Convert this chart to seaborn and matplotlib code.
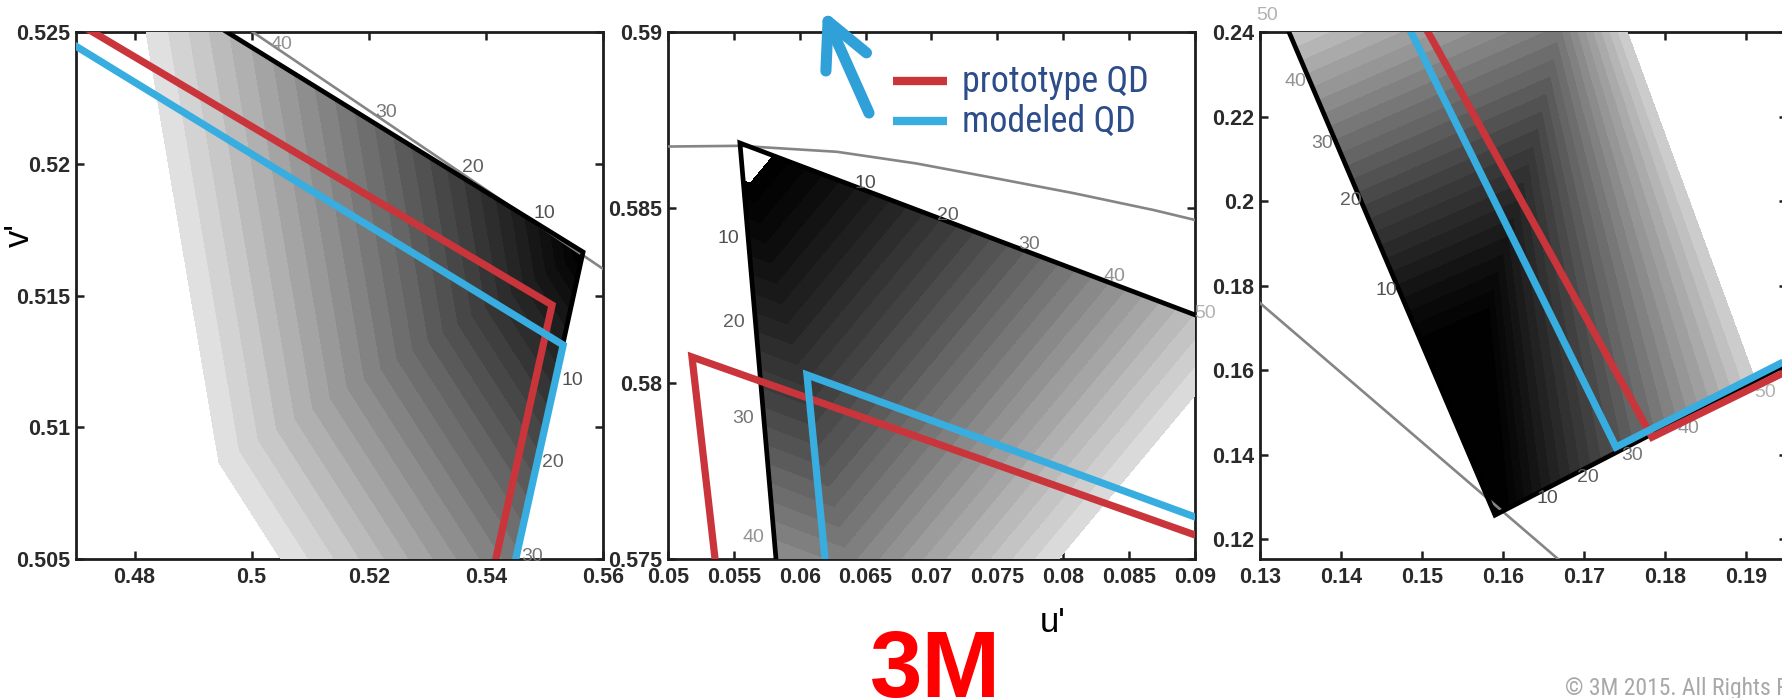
import numpy as np
import matplotlib
matplotlib.use("Agg")
import matplotlib.pyplot as plt
import seaborn as sns
from matplotlib import font_manager
from matplotlib.font_manager import FontProperties
from matplotlib.patches import Polygon, FancyArrowPatch, ArrowStyle
from matplotlib.lines import Line2D
from matplotlib.colors import ListedColormap

sns.set_theme(style="ticks")
plt.rcParams["font.family"] = ["Liberation Sans", "DejaVu Sans"]


def narrow_font():
    # look for an installed condensed / narrow sans face
    prefs = ["Liberation", "Arial", "Roboto", "Noto Sans", "Open Sans", "DejaVu Sans", "Lato", "Inter"]
    found = []
    for f in font_manager.fontManager.ttflist:
        nm = f.name
        st = str(f.stretch).lower()
        narrow = ("narrow" in nm.lower() or "condensed" in nm.lower()
                  or st in ("condensed", "semi-condensed"))
        if "extra" in nm.lower() or "extra" in st or "ultra" in st:
            continue
        if not narrow or f.style != "normal" or str(f.weight) not in ("400", "normal", "regular", "book"):
            continue
        if "mono" in nm.lower() or "serif" in nm.lower() and "sans" not in nm.lower():
            continue
        rank = next((i for i, p in enumerate(prefs) if nm.startswith(p)), len(prefs))
        semi = 1 if "semi" in st or "semi" in nm.lower() else 0
        found.append((rank, semi, f.fname))
    if found:
        found.sort()
        return found[0][2]
    return None


NARROW_FILE = narrow_font()


def nfont(size):
    if NARROW_FILE:
        return FontProperties(fname=NARROW_FILE, size=size)
    return FontProperties(family="Liberation Sans", size=size * 0.86)


RED = "#c9353b"
BLUE = "#38ade0"
LOCUS = "#858585"
g = np.linspace(0, 1, 256) ** 1.35
GRAYS = ListedColormap(np.column_stack([g, g, g]))

# ---------------- panel 1 : red primary ----------------
p1_xlim = (0.47, 0.56)
p1_ylim = (0.505, 0.525)
p1_xticks = [0.48, 0.50, 0.52, 0.54, 0.56]
p1_xticklabels = ["0.48", "0.5", "0.52", "0.54", "0.56"]
p1_yticks = [0.505, 0.51, 0.515, 0.52, 0.525]
p1_yticklabels = ["0.505", "0.51", "0.515", "0.52", "0.525"]
p1_wedge_u = [0.4836, 0.5566, 0.5428]
p1_wedge_v = [0.52667, 0.51665, 0.50267]
p1_locus_u = [0.490, 0.565]
p1_locus_v = [0.52653, 0.51526]
p1_proto_u = [0.465, 0.5513, 0.5397]
p1_proto_v = [0.52604, 0.51464, 0.503]
p1_model_u = [0.465, 0.5532, 0.5431]
p1_model_v = [0.52514, 0.51312, 0.503]
p1_lab_val = [40, 30, 20, 10, 10, 20, 30]
p1_lab_u = [0.5050, 0.52295, 0.53781, 0.54993, 0.55471, 0.55147, 0.54788]
p1_lab_v = [0.52451, 0.52193, 0.51984, 0.51813, 0.51179, 0.50868, 0.50511]
# chevron contour field: apex, two families of contour directions and a point on the outer contour
p1_apex = (0.5566, 0.51665)
p1_dir_a, p1_ref_a = (0.01247, -0.01636), (0.4820, 0.525)
p1_dir_b, p1_ref_b = (0.01059, -0.00368), (0.5050, 0.505)
p1_outer, p1_gamma = 52, 0.73
p1_levels = np.arange(2, 53, 2)

# ---------------- panel 2 : green primary ----------------
p2_xlim = (0.05, 0.09)
p2_ylim = (0.575, 0.59)
p2_xticks = [0.05, 0.055, 0.06, 0.065, 0.07, 0.075, 0.08, 0.085, 0.09]
p2_xticklabels = ["0.05", "0.055", "0.06", "0.065", "0.07", "0.075", "0.08", "0.085", "0.09"]
p2_yticks = [0.575, 0.58, 0.585, 0.59]
p2_yticklabels = ["0.575", "0.58", "0.585", "0.59"]
p2_wedge_u = [0.05866, 0.05546, 0.095]
p2_wedge_v = [0.573, 0.58684, 0.58124]
p2_locus_u = [0.045, 0.05, 0.05546, 0.06283, 0.06882, 0.07482, 0.08082, 0.08689, 0.09, 0.095]
p2_locus_v = [0.58662, 0.58674, 0.58676, 0.58659, 0.58626, 0.58584, 0.58541, 0.58493, 0.58465, 0.58418]
p2_proto_u = [0.05418, 0.05182, 0.095]
p2_proto_v = [0.573, 0.58075, 0.57502]
p2_model_u = [0.06244, 0.06055, 0.095]
p2_model_v = [0.573, 0.58024, 0.57551]
p2_lab_val = [10, 20, 30, 40, 50, 10, 20, 30, 40]
p2_lab_u = [0.06495, 0.07125, 0.07740, 0.08385, 0.09076, 0.05455, 0.05501, 0.05569, 0.05645]
p2_lab_v = [0.58570, 0.58479, 0.58394, 0.58303, 0.58200, 0.58411, 0.58172, 0.57901, 0.57560]
p2_apex = (0.05546, 0.58684)
p2_dir_a, p2_ref_a = (0.03453, -0.004896), (0.05733, 0.57876)
p2_dir_b, p2_ref_b = (0.02222, 0.01), (0.07464, 0.58412)
p2_ref_val = 30
p2_levels = np.arange(4, 61, 2)

# ---------------- panel 3 : blue primary ----------------
p3_xlim = (0.13, 0.19506)
p3_ylim = (0.1153, 0.24)
p3_xticks = [0.13, 0.14, 0.15, 0.16, 0.17, 0.18, 0.19]
p3_xticklabels = ["0.13", "0.14", "0.15", "0.16", "0.17", "0.18", "0.19"]
p3_yticks = [0.12, 0.14, 0.16, 0.18, 0.20, 0.22, 0.24]
p3_yticklabels = ["0.12", "0.14", "0.16", "0.18", "0.2", "0.22", "0.24"]
p3_wedge_u = [0.13135, 0.15901, 0.2]
p3_wedge_v = [0.25, 0.12568, 0.16629]
p3_locus_u = [0.125, 0.17]
p3_locus_v = [0.18409, 0.11002]
p3_proto_u = [0.14785, 0.1784, 0.2]
p3_proto_v = [0.25, 0.14414, 0.16438]
p3_model_u = [0.14606, 0.17395, 0.2]
p3_model_v = [0.25, 0.14178, 0.16718]
p3_lab_val = [50, 40, 30, 20, 10, 10, 20, 30, 40, 50]
p3_lab_u = [0.13086, 0.13432, 0.13765, 0.14123, 0.14556, 0.16543, 0.17049, 0.17593, 0.18284, 0.19235]
p3_lab_v = [0.24402, 0.22817, 0.21373, 0.20024, 0.17893, 0.12970, 0.13467, 0.13988, 0.14627, 0.15479]
p3_dir_a = (0.01, 0.008435)
p3_zero_a, p3_ref_a = (0.15037, 0.16474), (0.13296, 0.24284)
p3_fan0_u, p3_fan0_v = [0.16025, 0.15469], [0.12686, 0.24]
p3_fanN_u, p3_fanN_v = [0.19111, 0.17531], [0.15763, 0.24]
p3_outer, p3_gamma = 50, 0.8
p3_levels = np.arange(0, 51, 2)

LAB_GRAY = {10: "#505050", 20: "#5f5f5f", 30: "#767676", 40: "#939393", 50: "#b2b2b2"}


def lin(X, Y, base, d, ref, val):
    c = d[0] * (Y - base[1]) - d[1] * (X - base[0])
    cr = d[0] * (ref[1] - base[1]) - d[1] * (ref[0] - base[0])
    return val * c / cr


def line_x(y, us, vs):
    return us[0] + (y - vs[0]) * (us[1] - us[0]) / (vs[1] - vs[0])


def grid(xlim, ylim):
    return np.meshgrid(np.linspace(xlim[0], xlim[1], 900), np.linspace(ylim[0], ylim[1], 900))


def fill(ax, X, Y, F, levels, vmax, clip_u, clip_v):
    cs = ax.contourf(X, Y, F, levels=levels, cmap=GRAYS, vmin=levels[0], vmax=vmax, zorder=3)
    cs.set_edgecolor("face")
    cs.set_linewidth(0.3)
    poly = Polygon(np.column_stack([clip_u, clip_v]), closed=True, transform=ax.transData)
    cs.set_clip_path(poly)


def decorate(ax, wu, wv, lu, lv, pu, pv, mu, mv, lab_val, lab_u, lab_v):
    ax.plot(lu, lv, color=LOCUS, lw=1.9, zorder=4, solid_capstyle="butt")
    ax.plot(wu, wv, color="black", lw=3.4, zorder=5, solid_joinstyle="miter")
    for val, x, y in zip(lab_val, lab_u, lab_v):
        ax.text(x, y, str(val), fontsize=14, color=LAB_GRAY[val], ha="center", va="center",
                zorder=5.5, clip_on=False)
    sns.lineplot(x=pu, y=pv, sort=False, estimator=None, color=RED, linewidth=5.2, ax=ax,
                 zorder=6, solid_joinstyle="miter", solid_capstyle="butt", legend=False)
    sns.lineplot(x=mu, y=mv, sort=False, estimator=None, color=BLUE, linewidth=5.2, ax=ax,
                 zorder=6, solid_joinstyle="miter", solid_capstyle="butt", legend=False)


def style(ax, xlim, ylim, xt, xtl, yt, ytl):
    ax.set_xlim(xlim)
    ax.set_ylim(ylim)
    ax.set_xticks(xt)
    ax.set_xticklabels(xtl, fontweight="bold", fontsize=15.5, color="#2a2a2a")
    ax.set_yticks(yt)
    ax.set_yticklabels(ytl, fontweight="bold", fontsize=15.5, color="#2a2a2a")
    ax.tick_params(direction="in", length=5.5, width=1.8, top=True, right=True, color="#1e1e1e")
    ax.tick_params(axis="x", pad=6)
    ax.tick_params(axis="y", pad=4)
    for s in ax.spines.values():
        s.set_visible(True)
        s.set_linewidth(2.0)
        s.set_color("#1e1e1e")
    ax.set_xlabel("")
    ax.set_ylabel("")


FW, FH = 1783, 698
fig = plt.figure(figsize=(FW / 100, FH / 100), dpi=100)
lefts = [76, 668, 1260]
axes = [fig.add_axes([l / FW, (FH - 559) / FH, 527 / FW, 527 / FH]) for l in lefts]
ax1, ax2, ax3 = axes

# panel 1
X, Y = grid(p1_xlim, p1_ylim)
La = lin(X, Y, p1_apex, p1_dir_a, p1_ref_a, p1_outer)
Lb = lin(X, Y, p1_apex, p1_dir_b, p1_ref_b, p1_outer)
F1 = p1_outer * (np.clip(np.maximum(La, Lb), 0, None) / p1_outer) ** p1_gamma
fill(ax1, X, Y, F1, p1_levels, 56,
     p1_wedge_u + [0.44, 0.44], p1_wedge_v + [p1_wedge_v[2], p1_wedge_v[0]])
decorate(ax1, p1_wedge_u, p1_wedge_v, p1_locus_u, p1_locus_v, p1_proto_u, p1_proto_v,
         p1_model_u, p1_model_v, p1_lab_val, p1_lab_u, p1_lab_v)
style(ax1, p1_xlim, p1_ylim, p1_xticks, p1_xticklabels, p1_yticks, p1_yticklabels)

# panel 2
X, Y = grid(p2_xlim, p2_ylim)
F2 = np.maximum(lin(X, Y, p2_apex, p2_dir_a, p2_ref_a, p2_ref_val),
                lin(X, Y, p2_apex, p2_dir_b, p2_ref_b, p2_ref_val))
fill(ax2, X, Y, F2, p2_levels, 66,
     p2_wedge_u + [0.1, 0.1], p2_wedge_v + [p2_wedge_v[2], p2_wedge_v[0]])
decorate(ax2, p2_wedge_u, p2_wedge_v, p2_locus_u, p2_locus_v, p2_proto_u, p2_proto_v,
         p2_model_u, p2_model_v, p2_lab_val, p2_lab_u, p2_lab_v)
style(ax2, p2_xlim, p2_ylim, p2_xticks, p2_xticklabels, p2_yticks, p2_yticklabels)

# panel 3
X, Y = grid(p3_xlim, p3_ylim)
V1 = lin(X, Y, p3_zero_a, p3_dir_a, p3_ref_a, p3_outer)
x0 = line_x(Y, p3_fan0_u, p3_fan0_v)
xN = line_x(Y, p3_fanN_u, p3_fanN_v)
V2 = p3_outer * np.clip((X - x0) / (xN - x0), 0, None) ** p3_gamma
F3 = np.maximum(np.maximum(V1, V2), 0.5)
fill(ax3, X, Y, F3, p3_levels, 58,
     p3_wedge_u + [p3_wedge_u[2]], p3_wedge_v + [p3_wedge_v[0]])
decorate(ax3, p3_wedge_u, p3_wedge_v, p3_locus_u, p3_locus_v, p3_proto_u, p3_proto_v,
         p3_model_u, p3_model_v, p3_lab_val, p3_lab_u, p3_lab_v)
style(ax3, p3_xlim, p3_ylim, p3_xticks, p3_xticklabels, p3_yticks, p3_yticklabels)


def fx(px):
    return px / FW


def fy(py):
    return 1 - py / FH


# legend drawn in figure space
NAVY = "#2c4d8a"
legend_labels = ["prototype QD", "modeled QD"]
legend_colors = [RED, BLUE]
for i, (lab, col) in enumerate(zip(legend_labels, legend_colors)):
    yl = 81 + 40 * i
    fig.add_artist(Line2D([fx(893), fx(947)], [fy(yl), fy(yl)], color=col, lw=6,
                          solid_capstyle="butt", transform=fig.transFigure))
    fig.text(fx(962), fy(yl + 11), lab, fontproperties=nfont(26), color=NAVY, va="baseline")

arrow = FancyArrowPatch((fx(869), fy(113)), (fx(823), fy(10)), transform=fig.transFigure,
                        arrowstyle=ArrowStyle("->", head_length=32, head_width=16),
                        mutation_scale=1, lw=8, color="#2fa0d8", shrinkA=0, shrinkB=0)
fig.add_artist(arrow)

fig.text(fx(1040), fy(632), "u'", fontsize=25, color="black")
fig.text(fx(19), fy(235), "v'", fontsize=25, color="black", rotation=90, ha="center", va="center")
fig.text(fx(870), fy(697), "3M", fontsize=68, fontweight="bold", color="#ff0000", va="baseline")
fig.text(fx(1565), fy(695), "\u00a9 3M 2015. All Rights Reserved.", fontproperties=nfont(17),
         color="#a8a8a8", va="baseline")

fig.savefig("out.png", dpi=100)
